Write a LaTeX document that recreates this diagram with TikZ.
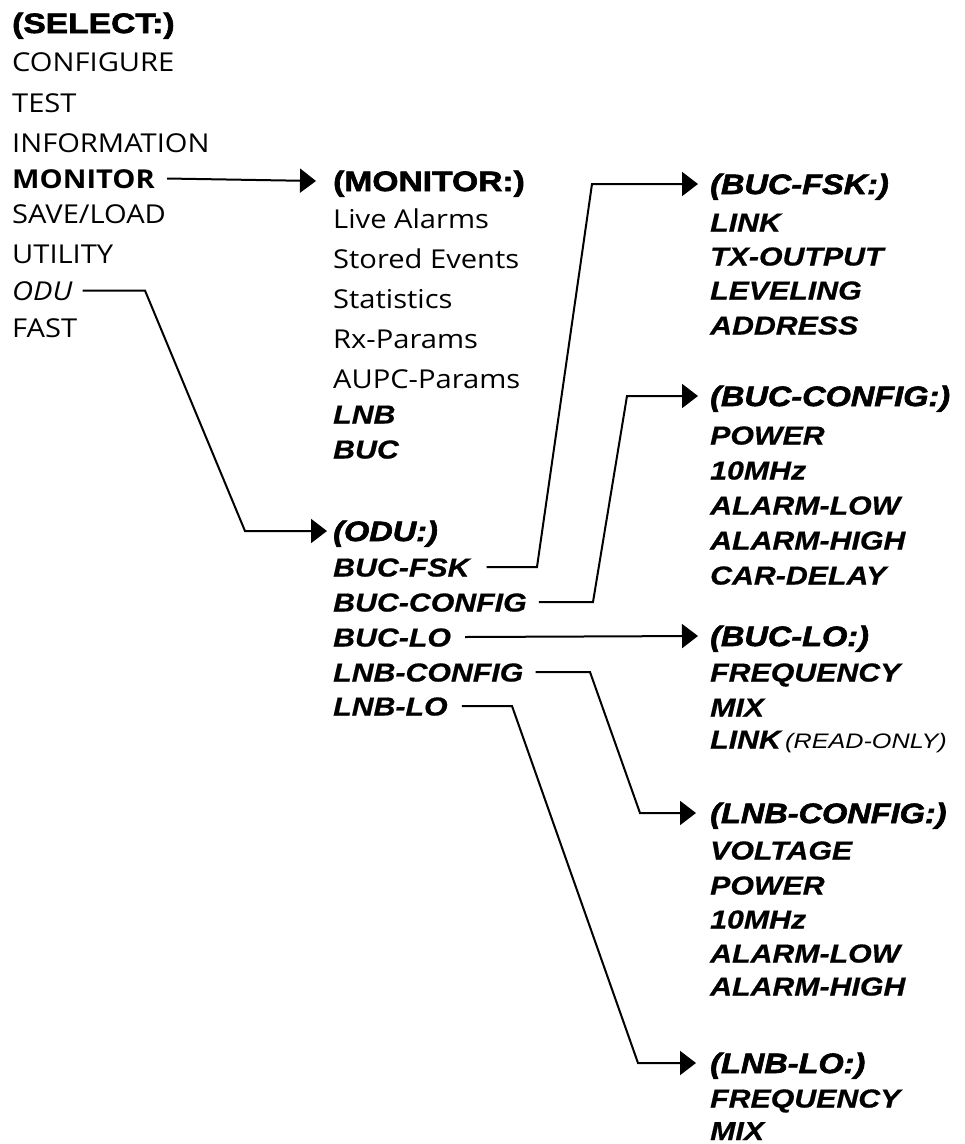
\documentclass[tikz,border=0pt]{standalone}
\usepackage{fontspec}
\setmainfont{Open Sans}[FakeStretch=1.12]
\newfontfamily\hdf{Liberation Sans}[FakeStretch=1.2, BoldFeatures={FakeBold=2.2}]
\newfontfamily\hdif{Liberation Sans}[FakeStretch=1.16, BoldItalicFeatures={FakeBold=2.2}]
\newfontfamily\itf{Liberation Sans}[FakeStretch=1.165, BoldItalicFeatures={FakeBold=0.6}]
\newfontfamily\itlf{Liberation Sans}[FakeStretch=1.2]
\usetikzlibrary{arrows.meta}
\begin{document}
\begin{tikzpicture}[x=1pt,y=-1pt,
  t/.style={anchor=west, inner sep=0pt, text height=19pt, text depth=0pt, font={\fontsize{26}{26}\selectfont}},
  tb/.style={t, font={\bfseries\fontsize{26}{26}\selectfont}},
  ti/.style={t, font={\itshape\fontsize{26}{26}\selectfont}},
  hd/.style={t, text height=20pt, font={\hdf\bfseries\fontsize{28}{28}\selectfont}},
  hdi/.style={t, text height=20pt, font={\hdif\bfseries\itshape\fontsize{28}{28}\selectfont}},
  bi/.style={t, font={\itf\bfseries\itshape\fontsize{26}{26}\selectfont}},
  arr/.style={line width=2pt, -{Triangle[length=16pt,width=24pt]}}
]
\useasboundingbox (0,0) rectangle (965,1144);
% column 1
\node[hd] (sel) at (12,23) {(SELECT:)};
\node[t] (cfg) at (12,61.5) {CONFIGURE};
\node[t] (tst) at (12,102.5) {TEST};
\node[t] (inf) at (12,142.5) {INFORMATION};
\node[tb] (mon) at (12,178.5) {MONITOR};
\node[t] (sav) at (12,214) {SAVE/LOAD};
\node[t] (utl) at (12,253.5) {UTILITY};
\node[ti] (odu) at (12,290.5) {ODU};
\node[t] (fst) at (12,327.5) {FAST};
% column 2
\node[hd] (monh) at (333,181) {(MONITOR:)};
\node[t] (la) at (333,218.5) {Live Alarms};
\node[t] (se) at (333,258.5) {Stored Events};
\node[t] (st) at (333,298.5) {Statistics};
\node[t] (rx) at (333,338.5) {Rx-Params};
\node[t] (au) at (333,378.5) {AUPC-Params};
\node[bi] (lnb) at (333,414) {LNB};
\node[bi] (buc) at (333,449) {BUC};
\node[hdi] (oduh) at (333,531) {(ODU:)};
\node[bi] (bfsk) at (333,567) {BUC-FSK};
\node[bi] (bcfg) at (333,602) {BUC-CONFIG};
\node[bi] (blo) at (333,637) {BUC-LO};
\node[bi] (lcfg) at (333,672) {LNB-CONFIG};
\node[bi] (llo) at (333,706) {LNB-LO};
% column 3
\node[hdi] (fskh) at (710,184) {(BUC-FSK:)};
\node[bi] (f1) at (710,222) {LINK};
\node[bi] (f2) at (710,256) {TX-OUTPUT};
\node[bi] (f3) at (710,290) {LEVELING};
\node[bi] (f4) at (710,325) {ADDRESS};
\node[hdi] (cfgh) at (710,396) {(BUC-CONFIG:)};
\node[bi] (c1) at (710,435) {POWER};
\node[bi] (c2) at (710,470) {10MHz};
\node[bi] (c3) at (710,505) {ALARM-LOW};
\node[bi] (c4) at (710,540) {ALARM-HIGH};
\node[bi] (c5) at (710,575) {CAR-DELAY};
\node[hdi] (loh) at (710,636) {(BUC-LO:)};
\node[bi] (o1) at (710,672) {FREQUENCY};
\node[bi] (o2) at (710,707) {MIX};
\node[bi] (o3) at (710,739) {LINK\,{\itlf\mdseries\itshape\fontsize{21}{21}\selectfont(READ-ONLY)}};
\node[hdi] (lcfgh) at (710,813) {(LNB-CONFIG:)};
\node[bi] (v1) at (710,850) {VOLTAGE};
\node[bi] (v2) at (710,885) {POWER};
\node[bi] (v3) at (710,919) {10MHz};
\node[bi] (v4) at (710,953) {ALARM-LOW};
\node[bi] (v5) at (710,986) {ALARM-HIGH};
\node[hdi] (lloh) at (710,1063) {(LNB-LO:)};
\node[bi] (m1) at (710,1098) {FREQUENCY};
\node[bi] (m2) at (710,1130.5) {MIX};
% corner coordinates
\coordinate (ka) at (145,0);
\coordinate (kb) at (245,0);
\coordinate (fa) at (537,0);
\coordinate (fb) at (592,0);
\coordinate (ca) at (593,0);
\coordinate (cb) at (627,0);
\coordinate (la1) at (590,0);
\coordinate (lb1) at (640,0);
\coordinate (ma) at (512,0);
\coordinate (mb) at (638,0);
% connectors
\draw[arr] ([xshift=12pt]mon.east) -- ([xshift=-17pt]monh.west);
\draw[arr] ([xshift=10pt]odu.east) -- (ka |- odu.east) -- (kb |- oduh.west) -- ([xshift=-6pt]oduh.west);
\draw[arr] ([xshift=17pt]bfsk.east) -- (fa |- bfsk.east) -- (fb |- fskh.west) -- ([xshift=-12pt]fskh.west);
\draw[arr] ([xshift=12pt]bcfg.east) -- (ca |- bcfg.east) -- (cb |- cfgh.west) -- ([xshift=-12pt]cfgh.west);
\draw[arr] ([xshift=14pt]blo.east) -- ([xshift=-12pt]loh.west);
\draw[arr] ([xshift=12pt]lcfg.east) -- (la1 |- lcfg.east) -- (lb1 |- lcfgh.west) -- ([xshift=-14pt]lcfgh.west);
\draw[arr] ([xshift=14pt]llo.east) -- (ma |- llo.east) -- (mb |- lloh.west) -- ([xshift=-14pt]lloh.west);
\end{tikzpicture}
\end{document}
